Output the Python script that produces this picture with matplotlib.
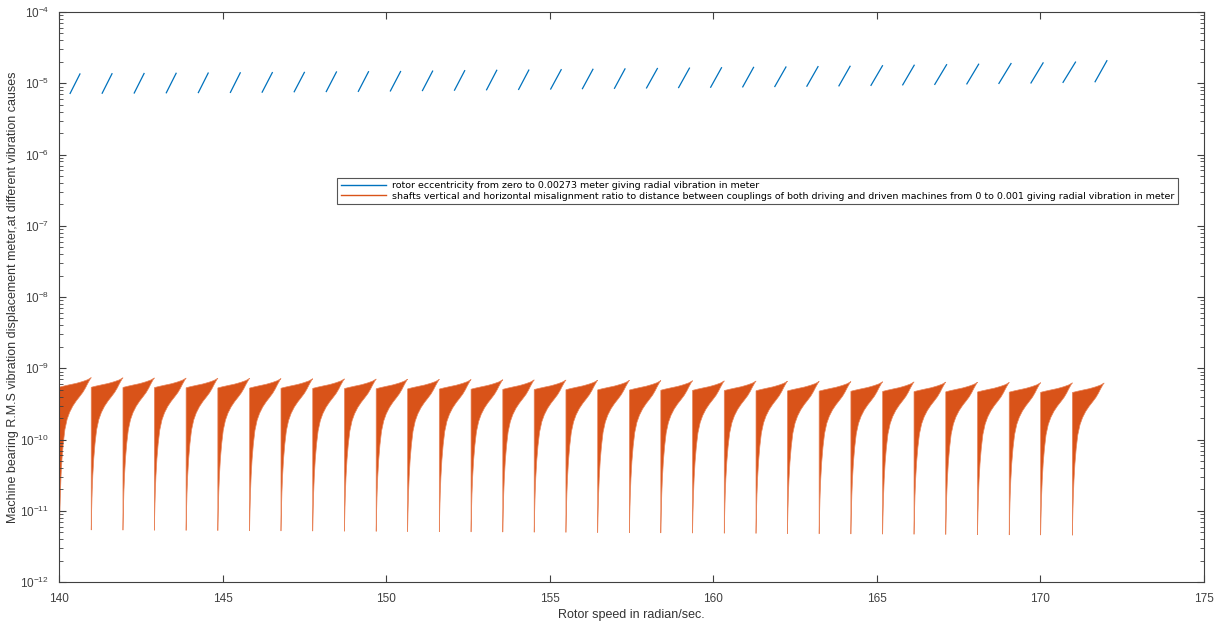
import numpy as np
import matplotlib.pyplot as plt
from matplotlib.lines import Line2D

plt.rcParams['font.family'] = ['Liberation Sans', 'DejaVu Sans']
plt.rcParams['mathtext.fontset'] = 'custom'
plt.rcParams['mathtext.rm'] = 'Liberation Sans'

blue = '#0072BD'
orange = '#D95319'

# rotor eccentricity: short rising segments near 1e-5
blue_x_start = [140.34, 141.32, 142.30, 143.28, 144.26, 145.24, 146.21, 147.19, 148.17,
                149.15, 150.13, 151.11, 152.09, 153.07, 154.05, 155.03, 156.00, 156.98,
                157.96, 158.94, 159.92, 160.90, 161.88, 162.86, 163.84, 164.82, 165.79,
                166.77, 167.75, 168.73, 169.71, 170.69, 171.67]
blue_x_end = [140.64, 141.62, 142.60, 143.58, 144.56, 145.54, 146.52, 147.50, 148.48,
              149.46, 150.44, 151.42, 152.40, 153.38, 154.36, 155.35, 156.32, 157.30,
              158.29, 159.27, 160.25, 161.23, 162.22, 163.20, 164.18, 165.17, 166.14,
              167.13, 168.11, 169.10, 170.08, 171.07, 172.03]
blue_low = [7.20e-6, 7.25e-6, 7.30e-6, 7.35e-6, 7.40e-6, 7.45e-6, 7.50e-6, 7.60e-6, 7.65e-6,
            7.70e-6, 7.80e-6, 7.90e-6, 8.00e-6, 8.10e-6, 8.20e-6, 8.30e-6, 8.40e-6, 8.50e-6,
            8.60e-6, 8.70e-6, 8.80e-6, 8.90e-6, 9.00e-6, 9.10e-6, 9.20e-6, 9.35e-6, 9.50e-6,
            9.65e-6, 9.80e-6, 9.95e-6, 1.01e-5, 1.03e-5, 1.05e-5]
blue_high = [1.35e-5, 1.36e-5, 1.37e-5, 1.38e-5, 1.39e-5, 1.40e-5, 1.41e-5, 1.42e-5, 1.44e-5,
             1.45e-5, 1.46e-5, 1.48e-5, 1.50e-5, 1.52e-5, 1.53e-5, 1.55e-5, 1.57e-5, 1.59e-5,
             1.61e-5, 1.63e-5, 1.65e-5, 1.67e-5, 1.69e-5, 1.71e-5, 1.73e-5, 1.76e-5, 1.79e-5,
             1.82e-5, 1.85e-5, 1.89e-5, 1.93e-5, 1.98e-5, 2.07e-5]

# misalignment: band of teeth, cusp positions (tooth boundaries)
cusps = [140.00, 140.97, 141.94, 142.90, 143.87, 144.84, 145.81, 146.77, 147.74, 148.71,
         149.68, 150.64, 151.61, 152.58, 153.55, 154.51, 155.48, 156.45, 157.42, 158.38,
         159.35, 160.32, 161.29, 162.25, 163.22, 164.19, 165.16, 166.12, 167.09, 168.06,
         169.03, 169.99, 170.96, 171.93]
tooth_scale = [1.00, 0.995, 0.99, 0.985, 0.98, 0.975, 0.97, 0.965, 0.96, 0.955, 0.95,
               0.945, 0.94, 0.935, 0.93, 0.925, 0.92, 0.915, 0.91, 0.905, 0.90, 0.895,
               0.89, 0.885, 0.88, 0.875, 0.87, 0.865, 0.86, 0.855, 0.85, 0.845, 0.84]
# shape of one tooth (first tooth values)
tooth_phase = [0.0, 0.005, 0.015, 0.03, 0.05, 0.08, 0.12, 0.17, 0.24, 0.32, 0.42, 0.53,
               0.64, 0.74, 0.82, 0.88, 0.93, 0.97, 1.0]
tooth_lower = [5.5e-12, 7e-12, 1.1e-11, 1.9e-11, 3.2e-11, 5.5e-11, 9e-11, 1.4e-10, 1.95e-10,
               2.45e-10, 3.0e-10, 3.55e-10, 4.1e-10, 4.7e-10, 5.4e-10, 6.1e-10, 6.7e-10,
               7.2e-10, 7.5e-10]
tooth_upper = [5.5e-10, 5.52e-10, 5.54e-10, 5.57e-10, 5.6e-10, 5.64e-10, 5.7e-10, 5.77e-10,
               5.86e-10, 5.97e-10, 6.1e-10, 6.25e-10, 6.45e-10, 6.65e-10, 6.85e-10,
               7.0e-10, 7.2e-10, 7.38e-10, 7.5e-10]

fig = plt.figure(figsize=(12.24, 6.28), dpi=100)
ax = fig.add_axes([0.0482, 0.0732, 0.9355, 0.9077])

for x0, x1, y0, y1 in zip(blue_x_start, blue_x_end, blue_low, blue_high):
    ax.plot([x0, x1], [y0, y1], color=blue, lw=0.9)

ph = np.array(tooth_phase)
for k in range(len(tooth_scale)):
    c0, c1 = cusps[k], cusps[k + 1]
    xs = c0 + ph * (c1 - c0)
    s = tooth_scale[k]
    ax.fill_between(xs, np.array(tooth_lower) * s, np.array(tooth_upper) * s,
                    facecolor=orange, edgecolor='#E8845A', lw=0.5)

ax.set_yscale('log')
ax.set_xlim(140, 175)
ax.set_ylim(1e-12, 1e-4)
ax.set_xticks([140, 145, 150, 155, 160, 165, 170, 175])
ax.set_yticks([10.0 ** e for e in range(-12, -3)])

ax.tick_params(which='both', direction='in', top=True, right=True,
               labelsize=8.5, colors='#404040')
ax.tick_params(axis='x', pad=8)
ax.tick_params(axis='y', pad=7)
ax.tick_params(which='major', length=5)
ax.tick_params(which='minor', length=3)
for sp in ax.spines.values():
    sp.set_color('#404040')
    sp.set_linewidth(0.8)

ax.set_xlabel('Rotor speed in radian/sec.', fontsize=9, color='#333333', labelpad=3)
ax.set_ylabel('Machine bearing R.M.S vibration displacement meter,at different vibration causes',
              fontsize=9, color='#333333')
ax.yaxis.set_label_coords(-0.035, 0.5)

handles = [Line2D([], [], color=blue, lw=1.0), Line2D([], [], color=orange, lw=1.0)]
labels = ['rotor eccentricity from zero to 0.00273 meter giving radial vibration in meter',
          'shafts vertical and horizontal misalignment ratio to distance between couplings of both driving and driven machines from 0 to 0.001 giving radial vibration in meter']
leg = ax.legend(handles, labels, loc='upper left', bbox_to_anchor=(0.243, 0.709),
                prop={'family': 'DejaVu Sans', 'size': 6.8}, frameon=True, fancybox=False,
                framealpha=1, edgecolor='#555555', borderpad=0.35, handlelength=4.8,
                handletextpad=0.7, labelspacing=0.15, borderaxespad=0)
leg.get_frame().set_linewidth(0.8)

fig.savefig('out.png', dpi=100)
